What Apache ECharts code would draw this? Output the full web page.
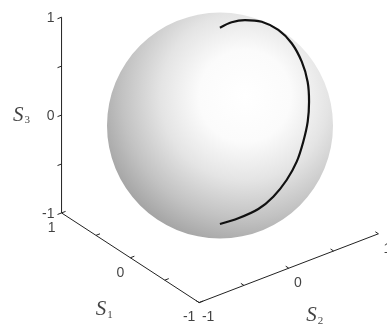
<!DOCTYPE html>
<html>
<head>
<meta charset="utf-8">
<script src="https://cdn.jsdelivr.net/npm/echarts@6/dist/echarts.min.js"></script>
<style>
  html, body { margin: 0; padding: 0; background: #ffffff; }
  #chart { width: 387px; height: 330px; }
</style>
</head>
<body>
<div id="chart"></div>
<script>
// Polarization trajectory on the Poincaré sphere (Stokes parameters S1, S2, S3)
const curveS1 = [0.000, 0.029, 0.042, 0.042, -0.075, -0.277, -0.490, -0.660, -0.794, -0.892, -0.959, -0.994, -0.995, -0.961, -0.900, -0.800, -0.682];
const curveS2 = [-0.001, 0.152, 0.311, 0.498, 0.593, 0.587, 0.536, 0.471, 0.384, 0.294, 0.193, 0.093, -0.020, -0.143, -0.263, -0.410, -0.524];
const curveS3 = [1.000, 0.988, 0.949, 0.866, 0.802, 0.761, 0.688, 0.584, 0.472, 0.344, 0.206, 0.053, -0.094, -0.237, -0.349, -0.438, -0.510];

// Axis ticks (every 0.5) and the labelled ones
const tickValues = [-1, -0.5, 0, 0.5, 1];
const labelValues = [-1, 0, 1];
const labelTexts = ['-1', '0', '1'];
const axisSubscripts = ['1', '2', '3'];

// Orthographic view: azimuth / elevation of the camera
const AZ = 37.5 * Math.PI / 180;
const EL = 30 * Math.PI / 180;
function project(s1, s2, s3) {
  return [
    -Math.sin(AZ) * s1 + Math.cos(AZ) * s2,
    Math.sin(EL) * Math.cos(AZ) * s1 + Math.sin(EL) * Math.sin(AZ) * s2 + Math.cos(EL) * s3
  ];
}

// Each box edge: the 3D point for a value along it
const edges = {
  s1: v => project(v, -1, -1),
  s2: v => project(-1, v, -1),
  s3: v => project(1, -1, v)
};
// Tick end point (3D) for a value along each edge
const tickEnd = {
  s1: v => project(v, -1 + 0.045, -1),
  s2: v => project(-1 + 0.045, v, -1),
  s3: v => project(1, -1 - 0.045, v)
};

const font = 'Liberation Sans, Arial, sans-serif';
const labelColor = '#111';

function edgeLine(key) {
  return {
    type: 'line', silent: true, showSymbol: false, z: 3,
    data: [edges[key](-1), edges[key](1)],
    lineStyle: { color: '#222', width: 1 }
  };
}

function tickSeries(key) {
  return {
    type: 'custom', silent: true, z: 3,
    data: tickValues.map(v => edges[key](v).concat(tickEnd[key](v))),
    encode: { x: [0, 2], y: [1, 3] },
    renderItem: (params, api) => {
      const a = api.coord([api.value(0), api.value(1)]);
      const b = api.coord([api.value(2), api.value(3)]);
      return {
        type: 'line',
        shape: { x1: a[0], y1: a[1], x2: b[0], y2: b[1] },
        style: { stroke: '#222', lineWidth: 1 }
      };
    }
  };
}

function tickLabelSeries(key, offset, align) {
  return {
    type: 'scatter', silent: true, symbolSize: 0, z: 4,
    data: labelValues.map((v, i) => ({ name: labelTexts[i], value: edges[key](v) })),
    label: {
      show: true, position: 'inside', offset: offset, align: align, verticalAlign: 'middle',
      formatter: p => p.name, color: labelColor, fontFamily: font, fontSize: 14
    }
  };
}

function axisNameSeries(key, idx, offset) {
  return {
    type: 'scatter', silent: true, symbolSize: 0, z: 4,
    data: [{ value: edges[key](0) }],
    label: {
      show: true, position: 'inside', offset: offset,
      formatter: '{s|S}{n|' + axisSubscripts[idx] + '}',
      rich: {
        s: { fontFamily: 'Liberation Serif, Times New Roman, serif', fontStyle: 'italic', fontSize: 21, lineHeight: 22, color: labelColor },
        n: { fontFamily: 'Liberation Serif, Times New Roman, serif', fontSize: 11, lineHeight: 22, verticalAlign: 'bottom', color: labelColor, padding: [0, 0, 0, 1] }
      }
    }
  };
}

const curve = curveS1.map((v, i) => project(v, curveS2[i], curveS3[i]));

const chart = echarts.init(document.getElementById('chart'), null, { renderer: 'canvas' });
chart.setOption({
  animation: false,
  backgroundColor: '#ffffff',
  grid: { left: 0, right: 0, top: 0, bottom: 0 },
  xAxis: { type: 'value', min: -1.9469, max: 1.4779, show: false },
  yAxis: { type: 'value', min: -1.8097, max: 1.1106, show: false },
  series: [
    {
      // shaded unit sphere
      type: 'custom', silent: true, z: 1,
      data: [[0, 0]],
      renderItem: (params, api) => {
        const c = api.coord([api.value(0), api.value(1)]);
        const r = api.size([1, 1])[0];
        return {
          type: 'circle',
          shape: { cx: c[0], cy: c[1], r: r },
          style: {
            fill: new echarts.graphic.RadialGradient(0.61, 0.37, 0.68, [
              { offset: 0, color: '#ffffff' },
              { offset: 0.3, color: '#fbfbfb' },
              { offset: 0.55, color: '#e4e4e4' },
              { offset: 0.8, color: '#c2c2c2' },
              { offset: 1, color: '#a2a2a2' }
            ])
          }
        };
      }
    },
    edgeLine('s1'), edgeLine('s2'), edgeLine('s3'),
    tickSeries('s1'), tickSeries('s2'), tickSeries('s3'),
    tickLabelSeries('s3', [-7, 1], 'right'),
    tickLabelSeries('s1', [-10, 15], 'center'),
    tickLabelSeries('s2', [9, 15], 'center'),
    axisNameSeries('s3', 2, [-40, 0]),
    axisNameSeries('s1', 0, [-26, 52]),
    axisNameSeries('s2', 1, [26, 47]),
    {
      type: 'line', silent: true, showSymbol: false, smooth: 0.3, z: 5,
      data: curve,
      lineStyle: { color: '#111', width: 2.2 }
    }
  ]
});
</script>
</body>
</html>
